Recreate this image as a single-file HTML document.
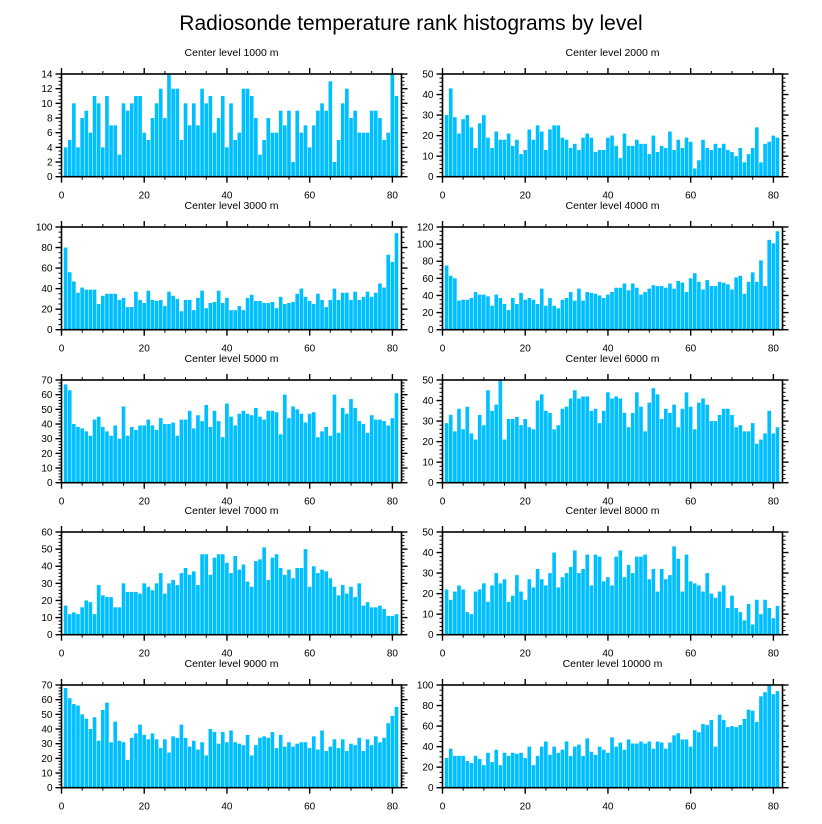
<!DOCTYPE html>
<html><head><meta charset="utf-8">
<style>
html,body{margin:0;padding:0;background:#fff;}
svg{display:block;font-family:"Liberation Sans",Arial,sans-serif;}
</style></head>
<body>
<svg id="chart" width="822" height="824" viewBox="0 0 822 824">
<text x="411" y="30" text-anchor="middle" font-size="21" fill="#000">Radiosonde temperature rank histograms by level</text>
</svg>
<script>
const titles=["Center level 1000 m","Center level 2000 m","Center level 3000 m","Center level 4000 m","Center level 5000 m","Center level 6000 m","Center level 7000 m","Center level 8000 m","Center level 9000 m","Center level 10000 m"];
const yMaxes=[14,50,100,120,70,50,60,50,70,100];
const yStepsMajor=[2,10,20,20,10,10,10,10,10,20];
const xTicks=[0,20,40,60,80];
const s1000=[4,5,10,4,8,9,6,11,10,4,11,7,7,3,10,9,10,11,11,6,5,8,10,12,8,14,12,12,5,10,7,10,7,12,10,11,6,8,11,4,10,5,6,12,12,11,8,3,5,8,6,6,9,7,9,2,9,6,7,4,7,9,10,9,13,2,5,10,12,8,9,6,6,6,9,9,8,5,6,14,11];
const s2000=[30,43,29,21,28,30,24,14,26,30,19,14,22,18,18,21,15,18,11,13,23,18,25,22,13,23,25,25,19,18,14,16,13,19,21,19,12,13,13,19,20,15,9,21,15,15,18,16,16,11,20,12,15,14,22,13,18,14,19,17,4,8,18,14,13,16,14,16,13,12,10,14,7,11,14,24,7,16,17,20,19];
const s3000=[80,56,47,36,41,39,39,39,25,33,35,35,35,29,31,22,22,37,29,26,38,29,28,29,23,37,33,30,18,29,29,19,31,38,21,26,27,38,26,31,19,19,23,19,31,34,28,28,26,26,27,21,32,25,26,27,35,40,32,28,25,35,29,22,29,40,29,36,36,29,37,29,32,37,32,36,45,41,73,66,94,100].slice(0,81);
const s4000=[75,63,60,34,35,35,37,44,41,41,39,28,41,37,30,23,37,30,43,35,37,35,30,48,28,37,28,25,35,37,44,34,48,34,44,43,42,40,37,41,44,49,49,54,46,54,49,41,44,48,52,51,51,49,54,48,57,55,44,60,66,56,47,58,51,51,56,55,53,47,61,63,42,56,67,56,81,51,105,101,115];
const s5000=[67,63,40,38,37,35,32,43,45,38,35,32,39,30,52,32,38,36,39,39,43,39,36,44,40,40,41,32,43,43,49,37,46,42,53,38,49,42,31,54,45,39,47,49,47,46,51,45,43,49,49,48,33,60,44,52,50,47,41,47,48,31,35,38,32,60,34,51,47,57,51,42,40,34,46,43,43,42,39,44,61];
const s6000=[29,33,25,36,26,37,24,21,33,28,45,35,38,50,21,31,31,32,28,31,27,26,40,43,35,34,26,28,36,37,41,45,41,42,42,35,36,29,35,44,41,42,41,34,27,34,44,37,25,39,46,43,31,36,34,38,27,36,44,37,26,39,41,38,30,30,33,36,36,33,27,28,25,25,29,19,21,24,35,24,27];
const s7000=[17,12,13,12,16,20,19,12,29,23,22,22,16,16,30,25,25,25,24,30,28,26,30,36,24,30,32,29,36,39,35,37,29,47,47,35,45,47,47,42,36,46,38,41,31,28,43,44,51,32,45,47,39,35,38,33,39,39,50,28,40,36,38,37,33,28,23,29,24,28,22,30,17,19,16,16,17,15,11,11,12];
const s8000=[22,17,21,24,22,11,10,21,22,25,16,24,30,25,27,16,19,29,21,17,27,23,32,27,24,30,40,23,28,30,33,41,30,32,39,24,39,38,26,28,24,38,41,28,34,30,38,38,39,27,32,21,32,27,29,43,37,21,39,26,25,24,21,30,20,18,21,24,13,19,13,11,7,15,5,17,10,17,13,8,14];
const s9000=[68,61,57,56,50,47,40,48,32,53,58,31,45,32,31,19,34,37,43,36,33,37,33,27,33,24,35,34,43,34,28,32,26,31,22,40,38,30,38,31,39,31,30,29,36,22,29,34,35,34,38,27,36,28,31,28,30,31,31,27,35,26,39,25,28,33,27,33,25,30,29,34,25,33,29,35,31,34,44,49,55];
const s10000=[29,38,31,31,31,26,24,31,28,22,34,25,37,22,34,31,34,33,34,29,40,22,31,40,45,32,40,34,37,45,31,40,42,31,48,35,32,40,37,34,49,40,44,37,47,43,43,45,43,45,38,45,44,38,44,51,53,47,47,40,56,54,62,61,66,40,71,66,59,60,59,61,67,76,75,64,89,93,100,91,94];
const series=[s1000,s2000,s3000,s4000,s5000,s6000,s7000,s8000,s9000,s10000];

const NS="http://www.w3.org/2000/svg";
const svg=document.getElementById('chart');
function mk(tag,attrs,parent){const e=document.createElementNS(NS,tag);for(const k in attrs)e.setAttribute(k,attrs[k]);(parent||svg).appendChild(e);return e;}
const PW=340,PH=102.7,XMAX=82.2;
const lefts=[61.5,442.5];
const tops=[74,227,380,532,685];
for(let p=0;p<10;p++){
  const L=lefts[p%2],T=tops[Math.floor(p/2)],B=T+PH,R=L+PW;
  const ymax=yMaxes[p],step=yStepsMajor[p];
  const xs=v=>L+v/XMAX*PW;
  const ys=v=>B-v/ymax*PH;
  const g=mk('g',{});
  
  
  const t=mk('text',{x:(L+R)/2,y:T-18,'text-anchor':'middle','font-size':'10.5',fill:'#000'},g);
  t.textContent=titles[p];
  
  
  const data=series[p];
  for(let i=0;i<data.length;i++){
    const v=Math.min(data[i],ymax);
    const x0=xs(i+0.5),x1=xs(i+1.5);
    const r=mk('rect',{x:x0+0.2,y:ys(v),width:(x1-x0)-0.5,height:B-ys(v),fill:'#00bfff'},g);
    
    
  }
  const fr=mk('rect',{x:L,y:T,width:PW,height:PH,fill:'none',stroke:'#000','stroke-width':'1.6'},g);
  
  
  for(let v=0;v<=XMAX;v+=5){
    const major=v%20===0,len=major?6:3,x=xs(v);
    mk('line',{x1:x,y1:B,x2:x,y2:B+len,stroke:'#000','stroke-width':major?1.4:1},g);
    mk('line',{x1:x,y1:T,x2:x,y2:T-len,stroke:'#000','stroke-width':major?1.4:1},g);
  }
  xTicks.forEach(v=>{
    const tx=mk('text',{x:xs(v),y:B+22,'text-anchor':'middle','font-size':'10',fill:'#000'},g);
    tx.textContent=v;
    
    
  });
  const nminor=(step===10)?5:4;
  const mstep=step/nminor;
  for(let k=0;k*mstep<=ymax+1e-9;k++){
    const v=k*mstep,major=k%nminor===0,len=major?6:3,y=ys(v);
    mk('line',{x1:L,y1:y,x2:L-len,y2:y,stroke:'#000','stroke-width':major?1.4:1},g);
    mk('line',{x1:R,y1:y,x2:R+len,y2:y,stroke:'#000','stroke-width':major?1.4:1},g);
    if(major){
      const ty=mk('text',{x:L-9,y:y+3.5,'text-anchor':'end','font-size':'10',fill:'#000'},g);
      ty.textContent=v;
      
      
    }
  }
}
</script>
</body></html>
